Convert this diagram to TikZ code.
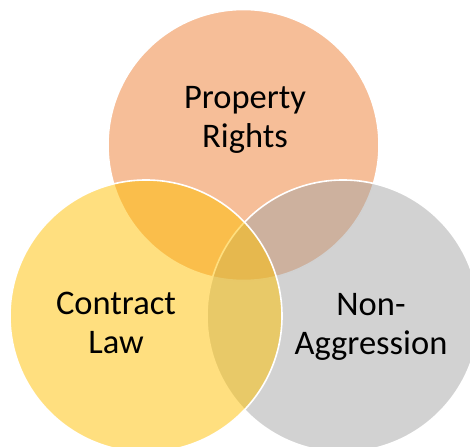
\documentclass[tikz,border=0pt]{standalone}
\usepackage{fontspec}
\setmainfont{Carlito}
\definecolor{accOrange}{HTML}{ED7D31}
\definecolor{accGray}{HTML}{A5A5A5}
\definecolor{accGold}{HTML}{FFC000}
\begin{document}
\begin{tikzpicture}[x=1pt,y=1pt,
  venn/.style={circle, minimum size=272pt, inner sep=0pt, draw=white, line width=1.6pt, fill opacity=0.5},
  lbl/.style={align=center, font=\fontsize{34.5}{39}\selectfont, text=black, inner sep=0pt}]
\useasboundingbox (0,0) rectangle (470,446);
\clip (0,0) rectangle (470,446);
\node[venn, fill=accOrange, minimum size=271pt] (top) at (243.5,301) {};
\node[venn, fill=accGray] (right) at (343,130) {};
\node[venn, fill=accGold] (left) at (146,130) {};
\node[lbl] (prop) at (245,326.5) {Property\\Rights};
\node[lbl] (contract) at (116,123) {Contract\\Law};
\node[lbl] (nonagg) at (371,119) {Non-\\Aggression};
\end{tikzpicture}
\end{document}
